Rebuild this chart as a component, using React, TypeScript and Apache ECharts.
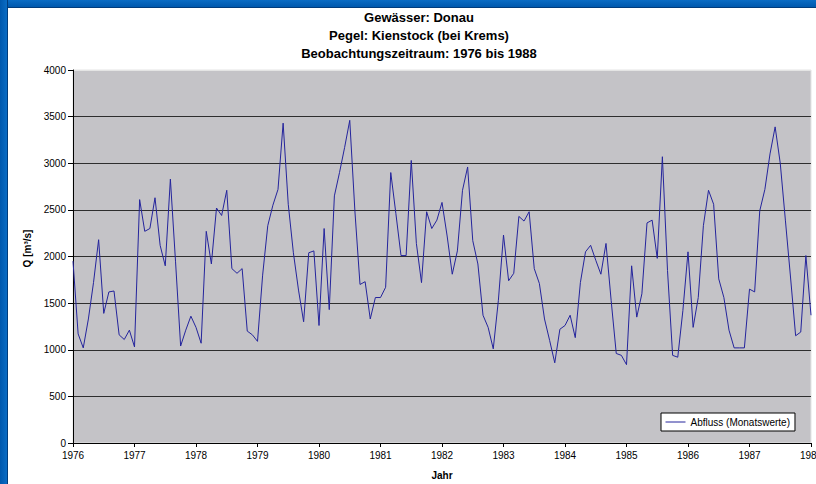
import React, { useEffect, useRef } from "react";
import * as echarts from "echarts";

const titleLines = ["Gewässer: Donau", "Pegel: Kienstock (bei Krems)", "Beobachtungszeitraum: 1976 bis 1988"];
const startYear = 1976;
const endYear = 1988;
const seriesName = "Abfluss (Monatswerte)";
const yTicks = [0, 500, 1000, 1500, 2000, 2500, 3000, 3500, 4000];
// Monthly discharge values, Jan 1976 .. Jan 1988 (m³/s)
const flow1976 = [1950, 1170, 1020, 1330, 1720, 2180, 1390, 1620, 1630, 1160, 1110, 1210];
const flow1977 = [1030, 2610, 2270, 2300, 2630, 2120, 1900, 2830, 1950, 1040, 1210, 1360];
const flow1978 = [1240, 1070, 2270, 1920, 2520, 2440, 2710, 1870, 1820, 1870, 1200, 1160];
const flow1979 = [1090, 1800, 2330, 2550, 2720, 3430, 2560, 2040, 1640, 1300, 2040, 2060];
const flow1980 = [1260, 2300, 1430, 2650, 2900, 3170, 3460, 2490, 1700, 1730, 1330, 1560];
const flow1981 = [1560, 1670, 2900, 2460, 2010, 2010, 3030, 2140, 1720, 2480, 2300, 2390];
const flow1982 = [2580, 2220, 1810, 2060, 2710, 2960, 2170, 1920, 1370, 1240, 1010, 1530];
const flow1983 = [2230, 1740, 1820, 2430, 2380, 2480, 1870, 1710, 1330, 1100, 860, 1220];
const flow1984 = [1260, 1370, 1130, 1720, 2050, 2120, 1960, 1810, 2140, 1530, 960, 940];
const flow1985 = [840, 1900, 1350, 1600, 2360, 2390, 1980, 3070, 1850, 940, 920, 1420];
const flow1986 = [2050, 1240, 1560, 2330, 2710, 2560, 1760, 1560, 1210, 1020, 1020, 1020];
const flow1987 = [1650, 1620, 2490, 2720, 3100, 3390, 3000, 2390, 1780, 1150, 1190, 2010];
const flow1988 = [1370];

const monthlyFlow = [
  ...flow1976, ...flow1977, ...flow1978, ...flow1979, ...flow1980, ...flow1981,
  ...flow1982, ...flow1983, ...flow1984, ...flow1985, ...flow1986, ...flow1987, ...flow1988,
];

const FONT = "'Liberation Sans', Arial, sans-serif";

export default function App() {
  const ref = useRef<HTMLDivElement>(null);

  useEffect(() => {
    if (!ref.current) return;
    const chart = echarts.init(ref.current, undefined, { renderer: "svg" });
    const data = monthlyFlow.map((v, i) => [startYear + i / 12, v]);
    const gridColors = yTicks.map((t) => (t === yTicks[yTicks.length - 1] ? "#e4e4e4" : "#2e2e2e"));
    chart.setOption({
      animation: false,
      textStyle: { fontFamily: FONT },
      graphic: titleLines.map((t, k) => ({
        type: "text",
        x: 419,
        y: 17 + k * 18,
        style: {
          text: t,
          textAlign: "center",
          textVerticalAlign: "middle",
          font: `bold 13px ${FONT}`,
          fill: "#000",
        },
      })),
      grid: {
        left: 73,
        top: 70,
        width: 738,
        height: 373,
        show: true,
        backgroundColor: "#c4c3c7",
        borderColor: "#e4e4e4",
        borderWidth: 1,
        containLabel: false,
        outerBoundsMode: "none",
      },
      xAxis: {
        type: "value",
        min: startYear,
        max: endYear,
        interval: 1,
        name: "Jahr",
        nameLocation: "middle",
        nameGap: 27,
        nameTextStyle: { fontSize: 10, fontWeight: "bold", color: "#000", fontFamily: FONT },
        axisLine: { show: true, lineStyle: { color: "#000", width: 1 } },
        axisTick: { show: true, length: 4, lineStyle: { color: "#000" } },
        axisLabel: {
          fontSize: 10,
          color: "#000",
          margin: 7,
          showMaxLabel: true,
          formatter: (v: number) => String(Math.round(v)),
        },
        splitLine: { show: false },
      },
      yAxis: {
        type: "value",
        min: 0,
        max: 4000,
        interval: 500,
        name: "Q [m³/s]",
        nameLocation: "middle",
        nameGap: 22,
        nameTextStyle: { fontSize: 10, fontWeight: "bold", color: "#000", fontFamily: FONT, padding: [0, 0, 0, 16] },
        axisLine: { show: true, lineStyle: { color: "#000", width: 1 } },
        axisTick: { show: true, length: 5, lineStyle: { color: "#000" } },
        axisLabel: { fontSize: 10, color: "#000", margin: 7, formatter: (v: number) => String(v) },
        splitLine: { show: true, lineStyle: { color: gridColors, width: 1 } },
      },
      legend: {
        show: true,
        left: 661,
        top: 413,
        orient: "horizontal",
        backgroundColor: "#fff",
        borderColor: "#000",
        borderWidth: 1,
        borderRadius: 0,
        padding: [4, 5, 4, 4],
        itemWidth: 20,
        itemHeight: 10,
        itemGap: 4,
        itemStyle: { color: "transparent", borderColor: "transparent", borderWidth: 0 },
        lineStyle: { width: 1 },
        textStyle: { fontSize: 10, color: "#000", fontFamily: FONT },
        data: [{ name: seriesName }],
      },
      series: [
        {
          name: seriesName,
          type: "line",
          data,
          symbol: "none",
          showSymbol: false,
          lineStyle: { color: "#24249c", width: 1 },
          itemStyle: { color: "#24249c" },
        },
      ],
    });
    return () => chart.dispose();
  }, []);

  return (
    <div
      style={{
        position: "fixed",
        left: 0,
        top: 0,
        width: 816,
        height: 484,
        background: "#fff",
        overflow: "hidden",
      }}
    >
      <div ref={ref} style={{ position: "absolute", left: 0, top: 0, width: 816, height: 484 }} />
      <div
        style={{
          position: "absolute",
          left: 0,
          top: 0,
          width: 816,
          height: 7,
          background: "linear-gradient(#0a6cc4, #0058ad)",
          borderBottom: "1px solid #003c7c",
        }}
      />
      <div
        style={{
          position: "absolute",
          left: 0,
          top: 0,
          width: 7,
          height: 484,
          background: "linear-gradient(90deg, #0058ad, #0a6cc4)",
          borderRight: "1px solid #003c7c",
        }}
      />
    </div>
  );
}
